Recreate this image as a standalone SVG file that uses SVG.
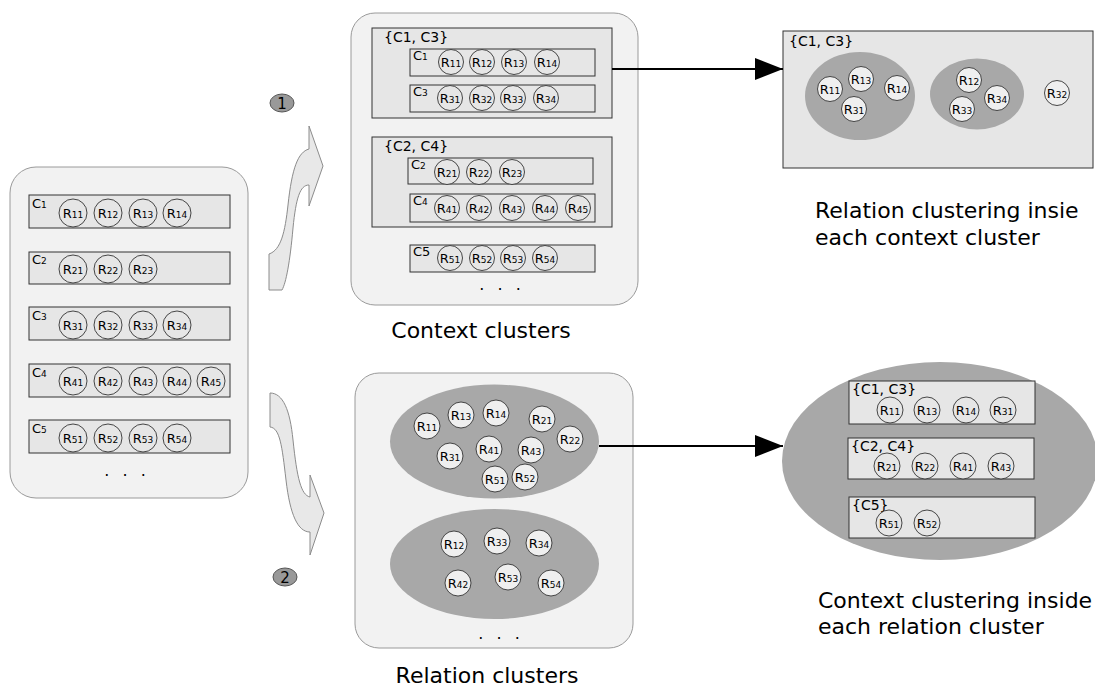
<svg xmlns="http://www.w3.org/2000/svg" width="1095" height="686" viewBox="0 0 1095 686">
<defs>
<style>
.panel{fill:#f2f2f2;stroke:#9a9a9a;stroke-width:1}
.box{fill:#e6e6e6;stroke:#333;stroke-width:1}
.rc{fill:#e6e6e6;stroke:#333;stroke-width:0.9}
.rw{fill:#efefef;stroke:#333;stroke-width:0.9}
.cl{fill:#a8a8a8}
.t{font-family:"DejaVu Sans","Liberation Sans",sans-serif;fill:#000}
.r{font-size:13px;text-anchor:middle}
.s{font-size:9px}
.c{font-size:13px}
.g{font-size:14px}
.d{font-size:16px;letter-spacing:4px}
.cap{font-size:22px}
.flow{fill:#e8e8e8;stroke:#8c8c8c;stroke-width:1}
.badge{fill:#999;stroke:#555;stroke-width:1}
.conn{stroke:#000;stroke-width:2;fill:none}
</style>
<marker id="ah" markerUnits="userSpaceOnUse" markerWidth="28" markerHeight="22" refX="28" refY="11" orient="auto">
<path d="M0,0 L28,11 L0,22 Z" fill="#000"/>
</marker>
</defs>

<!-- Left panel: input -->
<g id="input">
<rect class="panel" x="10" y="167" width="238" height="331" rx="26"/>
<rect class="box" x="29" y="195" width="201" height="33"/>
<text class="t c" x="32" y="208">C<tspan class="s">1</tspan></text>
<g>
<circle class="rc" cx="73" cy="213" r="14"/><text class="t r" x="73" y="218">R<tspan class="s">11</tspan></text>
<circle class="rc" cx="108" cy="213" r="14"/><text class="t r" x="108" y="218">R<tspan class="s">12</tspan></text>
<circle class="rc" cx="143" cy="213" r="14"/><text class="t r" x="143" y="218">R<tspan class="s">13</tspan></text>
<circle class="rc" cx="177" cy="213" r="14"/><text class="t r" x="177" y="218">R<tspan class="s">14</tspan></text>
</g>
<rect class="box" x="29" y="252" width="201" height="32"/>
<text class="t c" x="32" y="264">C<tspan class="s">2</tspan></text>
<g>
<circle class="rc" cx="73" cy="269" r="14"/><text class="t r" x="73" y="274">R<tspan class="s">21</tspan></text>
<circle class="rc" cx="108" cy="269" r="14"/><text class="t r" x="108" y="274">R<tspan class="s">22</tspan></text>
<circle class="rc" cx="143" cy="269" r="14"/><text class="t r" x="143" y="274">R<tspan class="s">23</tspan></text>
</g>
<rect class="box" x="29" y="307" width="201" height="33"/>
<text class="t c" x="32" y="320">C<tspan class="s">3</tspan></text>
<g>
<circle class="rc" cx="73" cy="325" r="14"/><text class="t r" x="73" y="330">R<tspan class="s">31</tspan></text>
<circle class="rc" cx="108" cy="325" r="14"/><text class="t r" x="108" y="330">R<tspan class="s">32</tspan></text>
<circle class="rc" cx="143" cy="325" r="14"/><text class="t r" x="143" y="330">R<tspan class="s">33</tspan></text>
<circle class="rc" cx="177" cy="325" r="14"/><text class="t r" x="177" y="330">R<tspan class="s">34</tspan></text>
</g>
<rect class="box" x="29" y="364" width="201" height="33"/>
<text class="t c" x="32" y="377">C<tspan class="s">4</tspan></text>
<g>
<circle class="rc" cx="73" cy="381" r="14"/><text class="t r" x="73" y="386">R<tspan class="s">41</tspan></text>
<circle class="rc" cx="108" cy="381" r="14"/><text class="t r" x="108" y="386">R<tspan class="s">42</tspan></text>
<circle class="rc" cx="143" cy="381" r="14"/><text class="t r" x="143" y="386">R<tspan class="s">43</tspan></text>
<circle class="rc" cx="177" cy="381" r="14"/><text class="t r" x="177" y="386">R<tspan class="s">44</tspan></text>
<circle class="rc" cx="211" cy="381" r="14"/><text class="t r" x="211" y="386">R<tspan class="s">45</tspan></text>
</g>
<rect class="box" x="29" y="420" width="201" height="33"/>
<text class="t c" x="32" y="433">C<tspan class="s">5</tspan></text>
<g>
<circle class="rc" cx="73" cy="438" r="14"/><text class="t r" x="73" y="443">R<tspan class="s">51</tspan></text>
<circle class="rc" cx="108" cy="438" r="14"/><text class="t r" x="108" y="443">R<tspan class="s">52</tspan></text>
<circle class="rc" cx="143" cy="438" r="14"/><text class="t r" x="143" y="443">R<tspan class="s">53</tspan></text>
<circle class="rc" cx="177" cy="438" r="14"/><text class="t r" x="177" y="443">R<tspan class="s">54</tspan></text>
</g>
<text class="t d" x="127" y="476" text-anchor="middle">. . .</text>
</g>

<!-- Flow arrows and step badges -->
<g id="step1">
<path class="flow" d="M269,288 L269,254 C281,250 285,232 288,205 C292,168 298,152 309,149 L309,126 L323,166 L309,206 L309,185 C300,185 296,198 293,228 C290,262 286,283 282,290 L269,290 Z"/>
<ellipse class="badge" cx="282" cy="103" rx="12" ry="9"/>
<text class="t" x="282" y="108.5" font-size="15" text-anchor="middle">1</text>
</g>
<g id="step2">
<path class="flow" d="M270,393 C283,393 290,410 293,440 C297,478 301,495 310,497 L310,475 L324,513 L310,555 L310,532 C298,532 290,515 286,480 C282,446 280,428 270,427 Z"/>
<ellipse class="badge" cx="285" cy="577" rx="12" ry="9"/>
<text class="t" x="285" y="582.5" font-size="15" text-anchor="middle">2</text>
</g>

<!-- Context clusters panel -->
<g id="context-clusters">
<rect class="panel" x="351" y="13" width="287" height="292" rx="24"/>
<rect class="box" x="372" y="28" width="240" height="90"/>
<text class="t g" x="384" y="42">{C1, C3}</text>
<rect class="box" x="410" y="49" width="185" height="27"/>
<text class="t c" x="413" y="60">C<tspan class="s">1</tspan></text>
<circle class="rc" cx="451" cy="62" r="12.5"/><text class="t r" x="451" y="67">R<tspan class="s">11</tspan></text>
<circle class="rc" cx="482" cy="62" r="12.5"/><text class="t r" x="482" y="67">R<tspan class="s">12</tspan></text>
<circle class="rc" cx="514" cy="62" r="12.5"/><text class="t r" x="514" y="67">R<tspan class="s">13</tspan></text>
<circle class="rc" cx="547" cy="62" r="12.5"/><text class="t r" x="547" y="67">R<tspan class="s">14</tspan></text>
<rect class="box" x="410" y="85" width="185" height="27"/>
<text class="t c" x="413" y="96">C<tspan class="s">3</tspan></text>
<circle class="rc" cx="450" cy="98" r="12.5"/><text class="t r" x="450" y="103">R<tspan class="s">31</tspan></text>
<circle class="rc" cx="482" cy="98" r="12.5"/><text class="t r" x="482" y="103">R<tspan class="s">32</tspan></text>
<circle class="rc" cx="513" cy="98" r="12.5"/><text class="t r" x="513" y="103">R<tspan class="s">33</tspan></text>
<circle class="rc" cx="546" cy="98" r="12.5"/><text class="t r" x="546" y="103">R<tspan class="s">34</tspan></text>

<rect class="box" x="372" y="137" width="240" height="90"/>
<text class="t g" x="384" y="151">{C2, C4}</text>
<rect class="box" x="408" y="158" width="185" height="26"/>
<text class="t c" x="411" y="169">C<tspan class="s">2</tspan></text>
<circle class="rc" cx="447" cy="172" r="12.5"/><text class="t r" x="447" y="177">R<tspan class="s">21</tspan></text>
<circle class="rc" cx="479" cy="172" r="12.5"/><text class="t r" x="479" y="177">R<tspan class="s">22</tspan></text>
<circle class="rc" cx="512" cy="172" r="12.5"/><text class="t r" x="512" y="177">R<tspan class="s">23</tspan></text>
<rect class="box" x="410" y="194" width="185" height="28"/>
<text class="t c" x="413" y="205">C<tspan class="s">4</tspan></text>
<circle class="rc" cx="447" cy="208" r="12.5"/><text class="t r" x="447" y="213">R<tspan class="s">41</tspan></text>
<circle class="rc" cx="479" cy="208" r="12.5"/><text class="t r" x="479" y="213">R<tspan class="s">42</tspan></text>
<circle class="rc" cx="512" cy="208" r="12.5"/><text class="t r" x="512" y="213">R<tspan class="s">43</tspan></text>
<circle class="rc" cx="545" cy="208" r="12.5"/><text class="t r" x="545" y="213">R<tspan class="s">44</tspan></text>
<circle class="rc" cx="578" cy="208" r="12.5"/><text class="t r" x="578" y="213">R<tspan class="s">45</tspan></text>

<rect class="box" x="410" y="245" width="185" height="27"/>
<text class="t c" x="413" y="256">C5</text>
<circle class="rc" cx="450" cy="258" r="12.5"/><text class="t r" x="450" y="263">R<tspan class="s">51</tspan></text>
<circle class="rc" cx="482" cy="258" r="12.5"/><text class="t r" x="482" y="263">R<tspan class="s">52</tspan></text>
<circle class="rc" cx="513" cy="258" r="12.5"/><text class="t r" x="513" y="263">R<tspan class="s">53</tspan></text>
<circle class="rc" cx="545" cy="258" r="12.5"/><text class="t r" x="545" y="263">R<tspan class="s">54</tspan></text>
<text class="t d" x="502" y="290" text-anchor="middle">. . .</text>
<text class="t cap" x="481" y="338" text-anchor="middle">Context clusters</text>
</g>

<!-- Relation clusters panel -->
<g id="relation-clusters">
<rect class="panel" x="355" y="373" width="278" height="275" rx="24"/>
<ellipse class="cl" cx="494.5" cy="441.5" rx="104.5" ry="57"/>
<circle class="rw" cx="427" cy="426" r="13"/><text class="t r" x="427" y="431">R<tspan class="s">11</tspan></text>
<circle class="rw" cx="461" cy="415" r="13"/><text class="t r" x="461" y="420">R<tspan class="s">13</tspan></text>
<circle class="rw" cx="496" cy="413" r="13"/><text class="t r" x="496" y="418">R<tspan class="s">14</tspan></text>
<circle class="rw" cx="542" cy="419" r="13"/><text class="t r" x="542" y="424">R<tspan class="s">21</tspan></text>
<circle class="rw" cx="570" cy="439" r="13"/><text class="t r" x="570" y="444">R<tspan class="s">22</tspan></text>
<circle class="rw" cx="450" cy="456" r="13"/><text class="t r" x="450" y="461">R<tspan class="s">31</tspan></text>
<circle class="rw" cx="489" cy="449" r="13"/><text class="t r" x="489" y="454">R<tspan class="s">41</tspan></text>
<circle class="rw" cx="531" cy="450" r="13"/><text class="t r" x="531" y="455">R<tspan class="s">43</tspan></text>
<circle class="rw" cx="495" cy="479" r="13"/><text class="t r" x="495" y="484">R<tspan class="s">51</tspan></text>
<circle class="rw" cx="525" cy="477" r="13"/><text class="t r" x="525" y="482">R<tspan class="s">52</tspan></text>
<ellipse class="cl" cx="494.5" cy="564" rx="104.5" ry="55"/>
<circle class="rw" cx="454" cy="544" r="13"/><text class="t r" x="454" y="549">R<tspan class="s">12</tspan></text>
<circle class="rw" cx="497" cy="541" r="13"/><text class="t r" x="497" y="546">R<tspan class="s">33</tspan></text>
<circle class="rw" cx="539" cy="543" r="13"/><text class="t r" x="539" y="548">R<tspan class="s">34</tspan></text>
<circle class="rw" cx="458" cy="583" r="13"/><text class="t r" x="458" y="588">R<tspan class="s">42</tspan></text>
<circle class="rw" cx="508" cy="577" r="13"/><text class="t r" x="508" y="582">R<tspan class="s">53</tspan></text>
<circle class="rw" cx="551" cy="583" r="13"/><text class="t r" x="551" y="588">R<tspan class="s">54</tspan></text>
<text class="t d" x="501" y="639" text-anchor="middle">. . .</text>
<text class="t cap" x="487" y="683" text-anchor="middle">Relation clusters</text>
</g>

<!-- Relation clustering inside context cluster -->
<g id="relation-in-context">
<rect class="box" x="783" y="31" width="310" height="137"/>
<text class="t g" x="789" y="46">{C1, C3}</text>
<ellipse class="cl" cx="860" cy="96" rx="55" ry="44"/>
<circle class="rw" cx="830" cy="89" r="12.5"/><text class="t r" x="830" y="94">R<tspan class="s">11</tspan></text>
<circle class="rw" cx="861" cy="79" r="12.5"/><text class="t r" x="861" y="84">R<tspan class="s">13</tspan></text>
<circle class="rw" cx="897" cy="88" r="12.5"/><text class="t r" x="897" y="93">R<tspan class="s">14</tspan></text>
<circle class="rw" cx="854" cy="109" r="12.5"/><text class="t r" x="854" y="114">R<tspan class="s">31</tspan></text>
<ellipse class="cl" cx="977" cy="94" rx="47" ry="35.5"/>
<circle class="rw" cx="969" cy="80" r="12.5"/><text class="t r" x="969" y="85">R<tspan class="s">12</tspan></text>
<circle class="rw" cx="997" cy="98" r="12.5"/><text class="t r" x="997" y="103">R<tspan class="s">34</tspan></text>
<circle class="rw" cx="962" cy="109" r="12.5"/><text class="t r" x="962" y="114">R<tspan class="s">33</tspan></text>
<circle class="rw" cx="1057" cy="93" r="12.5"/><text class="t r" x="1057" y="98">R<tspan class="s">32</tspan></text>
<text class="t cap" x="815" y="218">Relation clustering insie</text>
<text class="t cap" x="815" y="245">each context cluster</text>
</g>

<!-- Context clustering inside relation cluster -->
<g id="context-in-relation">
<ellipse class="cl" cx="940" cy="461" rx="158" ry="99"/>
<rect class="box" x="849" y="381" width="186" height="43"/>
<text class="t g" x="852" y="394">{C1, C3}</text>
<circle class="rc" cx="890" cy="410" r="13"/><text class="t r" x="890" y="415">R<tspan class="s">11</tspan></text>
<circle class="rc" cx="927" cy="410" r="13"/><text class="t r" x="927" y="415">R<tspan class="s">13</tspan></text>
<circle class="rc" cx="966" cy="410" r="13"/><text class="t r" x="966" y="415">R<tspan class="s">14</tspan></text>
<circle class="rc" cx="1003" cy="410" r="13"/><text class="t r" x="1003" y="415">R<tspan class="s">31</tspan></text>
<rect class="box" x="848" y="438" width="186" height="41"/>
<text class="t g" x="851" y="451">{C2, C4}</text>
<circle class="rc" cx="887" cy="466" r="13"/><text class="t r" x="887" y="471">R<tspan class="s">21</tspan></text>
<circle class="rc" cx="925" cy="466" r="13"/><text class="t r" x="925" y="471">R<tspan class="s">22</tspan></text>
<circle class="rc" cx="963" cy="466" r="13"/><text class="t r" x="963" y="471">R<tspan class="s">41</tspan></text>
<circle class="rc" cx="1001" cy="466" r="13"/><text class="t r" x="1001" y="471">R<tspan class="s">43</tspan></text>
<rect class="box" x="849" y="497" width="186" height="41"/>
<text class="t g" x="852" y="510">{C5}</text>
<circle class="rc" cx="889" cy="523" r="13"/><text class="t r" x="889" y="528">R<tspan class="s">51</tspan></text>
<circle class="rc" cx="927" cy="523" r="13"/><text class="t r" x="927" y="528">R<tspan class="s">52</tspan></text>
<text class="t cap" x="818" y="608">Context clustering inside</text>
<text class="t cap" x="818" y="634">each relation cluster</text>
</g>

<!-- Connectors -->
<g id="connectors">
<line class="conn" x1="612" y1="69" x2="783" y2="69" marker-end="url(#ah)"/>
<line class="conn" x1="599" y1="446" x2="783" y2="446" marker-end="url(#ah)"/>
</g>
</svg>
